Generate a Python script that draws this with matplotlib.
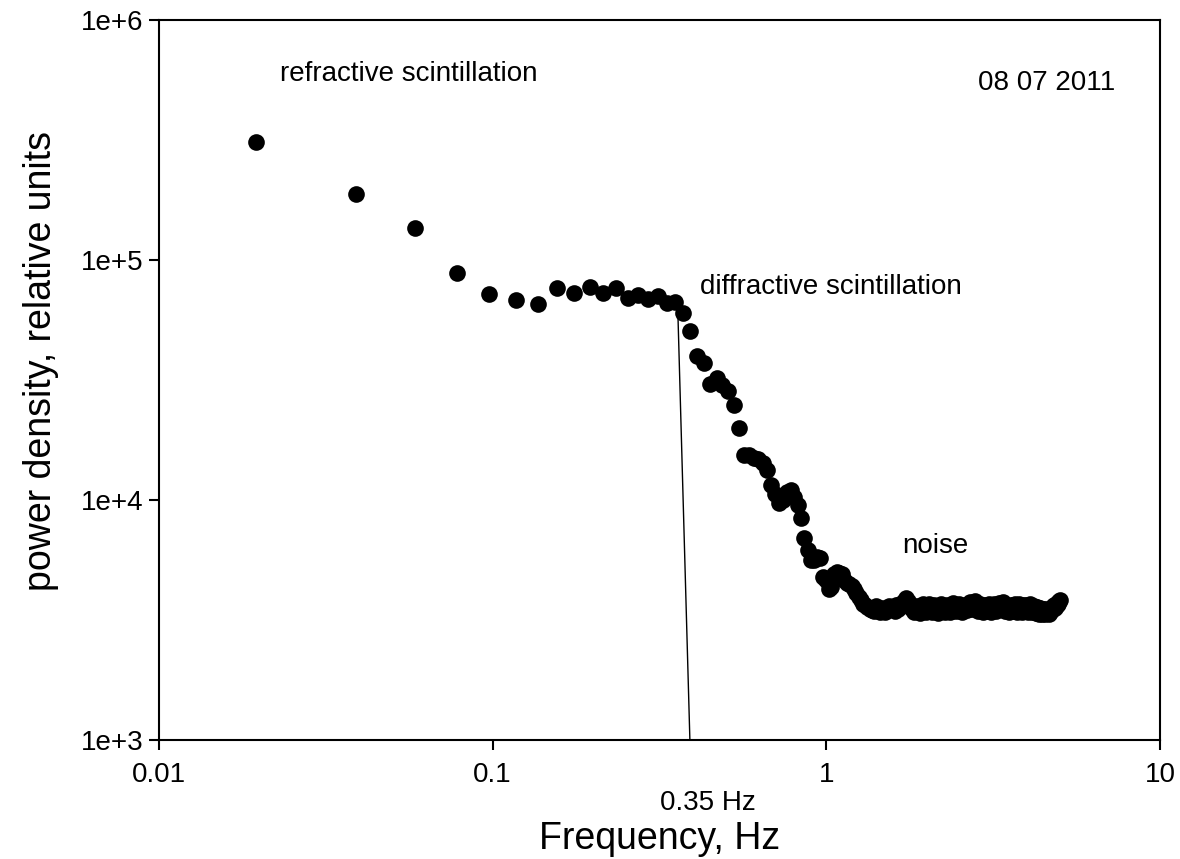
import numpy as np
import matplotlib
matplotlib.use("Agg")
import matplotlib.pyplot as plt
from matplotlib.ticker import FixedLocator, FuncFormatter, NullLocator

plt.rcParams['font.family'] = ['Liberation Sans', 'DejaVu Sans']

# spectrum: 256 bins, 5 Hz / 256 apart
n_bins = 256
df = 5.0 / n_bins
freq = np.arange(1, n_bins + 1) * df

power = [
    310000, 189000, 136000, 88000, 72200, 68100, 65600, 76200, 72700, 77400,
    72700, 76700, 69200, 71500, 68600, 70800, 66000, 67000, 60300, 50700,
    39800, 37100, 30400, 32100, 30100, 28500, 24800, 19900, 15400, 15400,
    15000, 14800, 14200, 13300, 11600, 10600, 9700, 10000, 10800, 11000,
    10300, 9500, 8400, 6950, 6200, 5600, 5650, 5800, 5750, 4800,
    4650, 4250, 4350, 4900, 5000, 4950, 4900, 4650, 4500, 4450,
    4400, 4250, 4100, 3950, 3820, 3700, 3640, 3580, 3520, 3480,
    3440, 3600, 3480, 3400, 3550, 3460, 3420, 3560, 3620, 3500,
    3580, 3450, 3640, 3520, 3700, 3600, 3760, 3820, 3900, 3800,
    3680, 3560, 3480, 3400, 3520, 3620, 3450, 3380, 3560, 3680,
    3500, 3420, 3600, 3700, 3540, 3400, 3480, 3650, 3580, 3440,
    3380, 3560, 3700, 3620, 3480, 3420, 3580, 3660, 3500, 3400,
    3460, 3600, 3720, 3560, 3440, 3520, 3640, 3700, 3580, 3460,
    3400, 3540, 3660, 3600, 3480, 3560, 3700, 3760, 3640, 3500,
    3620, 3760, 3800, 3700, 3580, 3460, 3540, 3680, 3600, 3480,
    3420, 3560, 3640, 3520, 3440, 3600, 3700, 3620, 3500, 3420,
    3480, 3600, 3680, 3560, 3460, 3540, 3660, 3720, 3640, 3520,
    3600, 3700, 3760, 3680, 3560, 3460, 3540, 3620, 3500, 3420,
    3480, 3580, 3660, 3540, 3440, 3520, 3640, 3700, 3600, 3480,
    3420, 3540, 3620, 3680, 3560, 3460, 3400, 3520, 3640, 3580,
    3480, 3560, 3660, 3600, 3500, 3420, 3480, 3600, 3680, 3560,
    3460, 3400, 3520, 3620, 3560, 3440, 3380, 3480, 3580, 3500,
    3420, 3360, 3460, 3540, 3440, 3380, 3340, 3420, 3500, 3400,
    3360, 3440, 3520, 3420, 3380, 3460, 3400, 3360, 3480, 3420,
    3500, 3440, 3540, 3600, 3520, 3580, 3640, 3560, 3620, 3680,
    3640, 3700, 3760, 3700, 3800, 3820,
]

# marker line for the 0.35 Hz break
cut_x = [0.359, 0.390]
cut_y = [60100, 1000]

x_ticks = [0.01, 0.1, 1, 10]
x_tick_labels = ["0.01", "0.1", "1", "10"]
y_ticks = [1e3, 1e4, 1e5, 1e6]

fig = plt.figure(figsize=(11.8, 8.59), dpi=100)
ax = fig.add_axes([159 / 1180, 1 - 740 / 859, 1001 / 1180, 720 / 859])

ax.plot(freq, power, 'o', color='black', ms=12, mec='black', mew=0)
ax.plot(cut_x, cut_y, color='black', lw=1)

ax.set_xscale('log')
ax.set_yscale('log')
ax.set_xlim(0.01, 10)
ax.set_ylim(1e3, 1e6)

ax.xaxis.set_major_locator(FixedLocator(x_ticks))
ax.xaxis.set_major_formatter(FuncFormatter(lambda v, p: x_tick_labels[x_ticks.index(v)] if v in x_ticks else ""))
ax.yaxis.set_major_locator(FixedLocator(y_ticks))
ax.yaxis.set_major_formatter(FuncFormatter(lambda v, p: "1e+%d" % round(np.log10(v))))
ax.xaxis.set_minor_locator(NullLocator())
ax.yaxis.set_minor_locator(NullLocator())

for s in ax.spines.values():
    s.set_linewidth(1.5)
ax.tick_params(direction='out', length=7, width=1.5, labelsize=20)
ax.tick_params(axis='x', pad=9)
ax.tick_params(axis='y', pad=4)

ax.set_xlabel("Frequency, Hz", fontsize=27)
ax.set_ylabel("power density, relative units", fontsize=27)
ax.xaxis.set_label_coords(0.5, -0.113)
ax.yaxis.set_label_coords(-0.100, 0.527)

ax.text(0.0231, 557000, "refractive scintillation", fontsize=20, va='baseline')
ax.text(2.85, 511000, "08 07 2011", fontsize=20, va='baseline')
ax.text(0.418, 72100, "diffractive scintillation", fontsize=20, va='baseline')
ax.text(1.685, 6010, "noise", fontsize=20, va='baseline')
fig.text(708 / 1180, 1 - 810 / 859, "0.35 Hz", fontsize=20, ha='center', va='baseline')

fig.savefig("out.png", dpi=100)
